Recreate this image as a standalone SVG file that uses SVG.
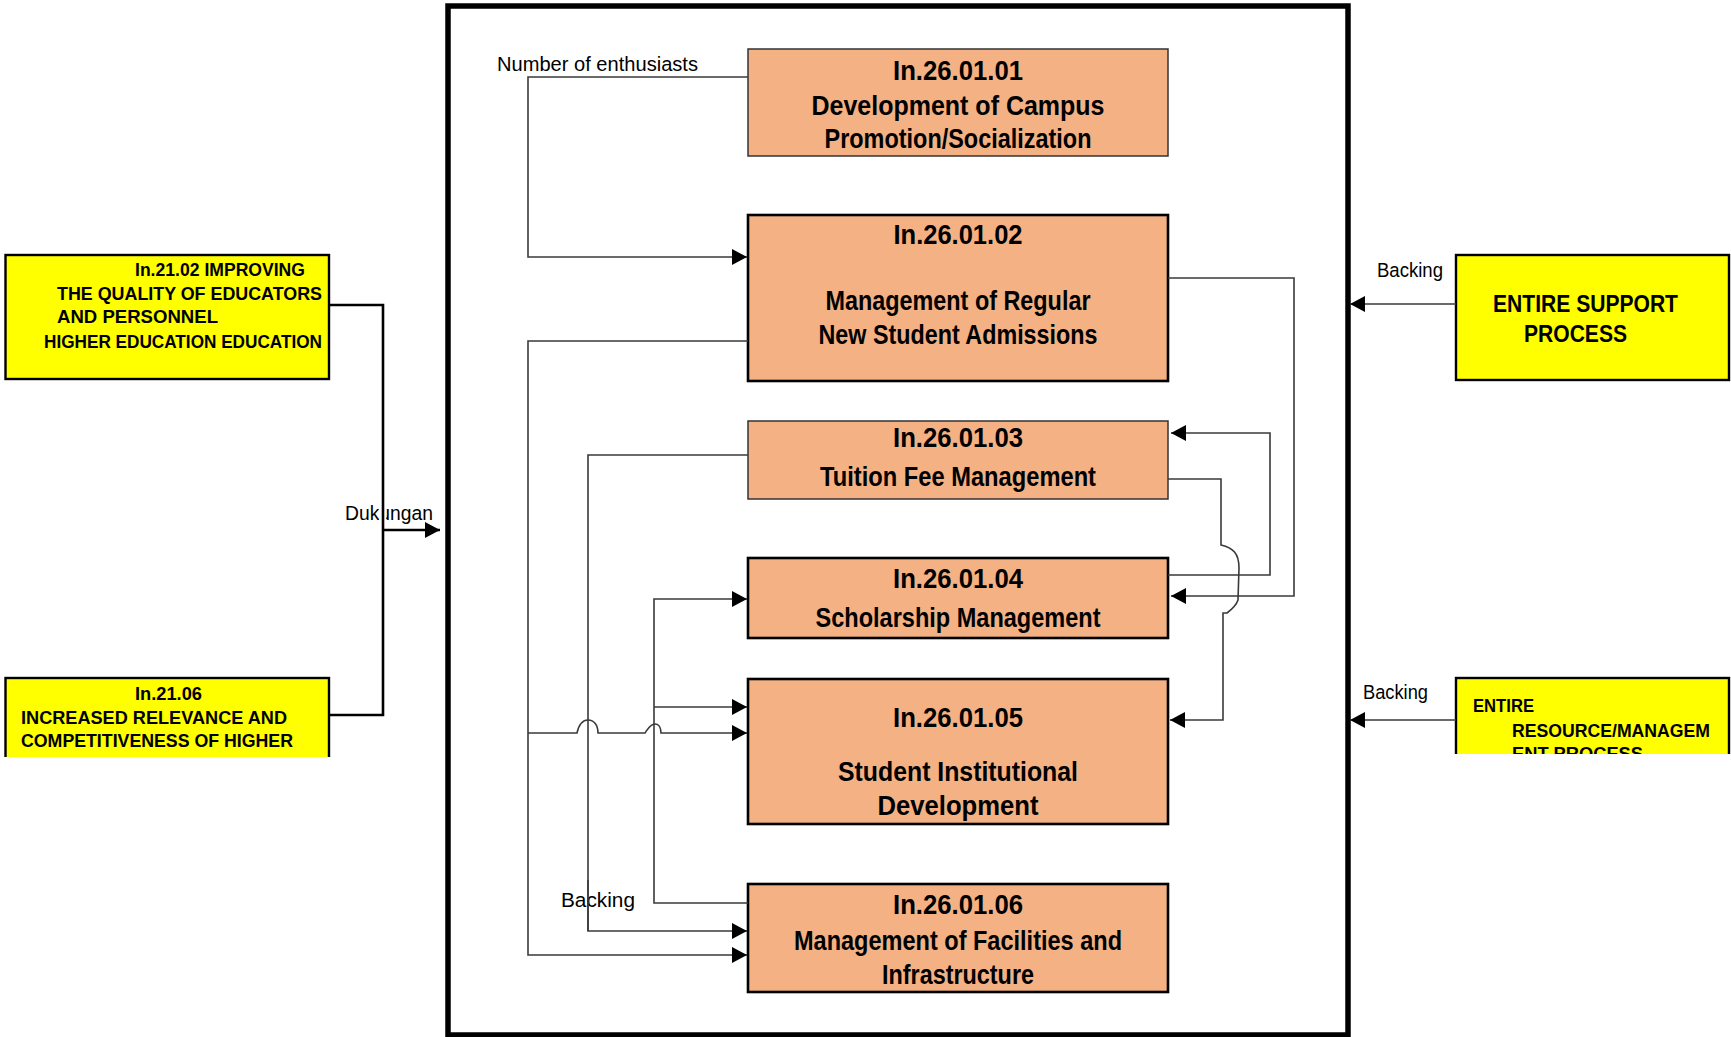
<svg xmlns="http://www.w3.org/2000/svg" width="1731" height="1037" viewBox="0 0 1731 1037">
  <defs>
    <style>
      .proc { fill: #F4B183; }
      .thin { stroke: #333333; stroke-width: 1.5; }
      .thick { stroke: #000000; stroke-width: 2.6; }
      .ext { fill: #FFFF00; stroke: #000000; stroke-width: 2.4; }
      .pt { font-family: "Liberation Sans", Arial, sans-serif; font-weight: bold; font-size: 28px; fill: #000; text-anchor: middle; }
      .et { font-family: "Liberation Sans", Arial, sans-serif; font-weight: bold; fill: #000; }
      .lbl { font-family: "Liberation Sans", Arial, sans-serif; font-size: 20.5px; fill: #000; }
      .wire { fill: none; stroke: #3a3a3a; stroke-width: 1.6; }
      .bold-wire { fill: none; stroke: #000; stroke-width: 2.6; }
    </style>
    <marker id="arrow" markerUnits="userSpaceOnUse" markerWidth="16" markerHeight="16" refX="15" refY="8" orient="auto">
      <path d="M0,0 L15,8 L0,16 Z" fill="#000"/>
    </marker>
    <clipPath id="clipLeft"><rect x="0" y="660" width="340" height="97"/></clipPath>
    <clipPath id="clipRight"><rect x="1440" y="660" width="291" height="94"/></clipPath>
  </defs>

  <rect width="1731" height="1037" fill="#ffffff"/>

  <!-- outer frame of the process group -->
  <rect id="frame" x="448" y="6" width="900" height="1029" fill="none" stroke="#000" stroke-width="5.5"/>

  <!-- external inputs (left) -->
  <g id="in2102">
    <rect class="ext" x="5.5" y="255" width="323.5" height="124"/>
    <text class="et" font-size="19" x="135" y="276" textLength="170" lengthAdjust="spacingAndGlyphs">In.21.02 IMPROVING</text>
    <text class="et" font-size="19" x="57" y="300" textLength="265" lengthAdjust="spacingAndGlyphs">THE QUALITY OF EDUCATORS</text>
    <text class="et" font-size="19" x="57" y="323" textLength="161" lengthAdjust="spacingAndGlyphs">AND PERSONNEL</text>
    <text class="et" font-size="19" x="44" y="348" textLength="278" lengthAdjust="spacingAndGlyphs">HIGHER EDUCATION EDUCATION</text>
  </g>

  <g id="in2106" clip-path="url(#clipLeft)">
    <rect class="ext" x="5.5" y="678" width="323.5" height="120"/>
    <text class="et" font-size="19" x="135" y="700" textLength="67" lengthAdjust="spacingAndGlyphs">In.21.06</text>
    <text class="et" font-size="19" x="21" y="724" textLength="266" lengthAdjust="spacingAndGlyphs">INCREASED RELEVANCE AND</text>
    <text class="et" font-size="19" x="21" y="747" textLength="272" lengthAdjust="spacingAndGlyphs">COMPETITIVENESS OF HIGHER</text>
    <text class="et" font-size="19" x="21" y="770" textLength="100" lengthAdjust="spacingAndGlyphs">EDUCATION</text>
  </g>

  <!-- external supports (right) -->
  <g id="support">
    <rect class="ext" x="1456" y="255" width="273" height="125"/>
    <text class="et" font-size="24.5" x="1493" y="312" textLength="185" lengthAdjust="spacingAndGlyphs">ENTIRE SUPPORT</text>
    <text class="et" font-size="24.5" x="1524" y="342" textLength="103" lengthAdjust="spacingAndGlyphs">PROCESS</text>
  </g>

  <g id="resource" clip-path="url(#clipRight)">
    <rect class="ext" x="1456" y="678" width="273" height="120"/>
    <text class="et" font-size="17.5" x="1473" y="712" textLength="61" lengthAdjust="spacingAndGlyphs">ENTIRE</text>
    <text class="et" font-size="17.5" x="1512" y="737" textLength="198" lengthAdjust="spacingAndGlyphs">RESOURCE/MANAGEM</text>
    <text class="et" font-size="17.5" x="1512" y="760" textLength="131" lengthAdjust="spacingAndGlyphs">ENT PROCESS</text>
  </g>

  <!-- sub-processes -->
  <g id="p260101">
    <rect class="proc thin" x="748" y="49" width="420" height="107"/>
    <text class="pt" x="958" y="80" textLength="130" lengthAdjust="spacingAndGlyphs">In.26.01.01</text>
    <text class="pt" x="958" y="115" textLength="293" lengthAdjust="spacingAndGlyphs">Development of Campus</text>
    <text class="pt" x="958" y="148" textLength="267" lengthAdjust="spacingAndGlyphs">Promotion/Socialization</text>
  </g>

  <g id="p260102">
    <rect class="proc thick" x="748" y="215" width="420" height="166"/>
    <text class="pt" x="958" y="244" textLength="129" lengthAdjust="spacingAndGlyphs">In.26.01.02</text>
    <text class="pt" x="958" y="310" textLength="265" lengthAdjust="spacingAndGlyphs">Management of Regular</text>
    <text class="pt" x="958" y="344" textLength="279" lengthAdjust="spacingAndGlyphs">New Student Admissions</text>
  </g>

  <g id="p260103">
    <rect class="proc thin" x="748" y="421" width="420" height="78"/>
    <text class="pt" x="958" y="447" textLength="130" lengthAdjust="spacingAndGlyphs">In.26.01.03</text>
    <text class="pt" x="958" y="486" textLength="276" lengthAdjust="spacingAndGlyphs">Tuition Fee Management</text>
  </g>

  <g id="p260104">
    <rect class="proc thick" x="748" y="558" width="420" height="80"/>
    <text class="pt" x="958" y="588" textLength="130" lengthAdjust="spacingAndGlyphs">In.26.01.04</text>
    <text class="pt" x="958" y="627" textLength="285" lengthAdjust="spacingAndGlyphs">Scholarship Management</text>
  </g>

  <g id="p260105">
    <rect class="proc thick" x="748" y="679" width="420" height="145"/>
    <text class="pt" x="958" y="727" textLength="130" lengthAdjust="spacingAndGlyphs">In.26.01.05</text>
    <text class="pt" x="958" y="781" textLength="240" lengthAdjust="spacingAndGlyphs">Student Institutional</text>
    <text class="pt" x="958" y="815" textLength="161" lengthAdjust="spacingAndGlyphs">Development</text>
  </g>

  <g id="p260106">
    <rect class="proc thick" x="748" y="884" width="420" height="108"/>
    <text class="pt" x="958" y="914" textLength="130" lengthAdjust="spacingAndGlyphs">In.26.01.06</text>
    <text class="pt" x="958" y="950" textLength="328" lengthAdjust="spacingAndGlyphs">Management of Facilities and</text>
    <text class="pt" x="958" y="984" textLength="152" lengthAdjust="spacingAndGlyphs">Infrastructure</text>
  </g>

  <!-- connectors -->
  <g id="connectors">
    <!-- left inputs merge into one support arrow -->
    <text class="lbl" x="345" y="520" textLength="88" lengthAdjust="spacingAndGlyphs">Dukungan</text>
    <rect x="379" y="502" width="7" height="22" fill="#fff"/>
    <path class="bold-wire" d="M329,305 H383 V715 H329"/>
    <path class="bold-wire" d="M383,530 H440" marker-end="url(#arrow)"/>

    <!-- right supports -->
    <text class="lbl" x="1377" y="277" textLength="66" lengthAdjust="spacingAndGlyphs">Backing</text>
    <path class="wire" d="M1456,304 H1350" marker-end="url(#arrow)"/>
    <text class="lbl" x="1363" y="699" textLength="65" lengthAdjust="spacingAndGlyphs">Backing</text>
    <path class="wire" d="M1456,720 H1350" marker-end="url(#arrow)"/>

    <!-- 01 -> 02 -->
    <text class="lbl" font-size="21.5" x="497" y="71" textLength="201" lengthAdjust="spacingAndGlyphs">Number of enthusiasts</text>
    <path class="wire" d="M748,77 H528 V257 H747" marker-end="url(#arrow)"/>

    <!-- 02 -> 06 and 02 -> 05 -->
    <path class="wire" d="M748,341 H528 V955 H747" marker-end="url(#arrow)"/>
    <path class="wire" d="M528,733 H577 C579,724 583,720 588,720 C594,720 598,725 598,733 H645 C648,729 650,724 655,724 C659,724 661,728 661,733 H747" marker-end="url(#arrow)"/>

    <!-- 03 -> 06 -->
    <path class="wire" d="M748,455 H588 V931 H747" marker-end="url(#arrow)"/>
    <text class="lbl" font-size="22" x="561" y="907" textLength="74" lengthAdjust="spacingAndGlyphs">Backing</text>
    <path class="wire" d="M588,880 V931"/>

    <!-- 06 -> 04 and 06 -> 05 -->
    <path class="wire" d="M748,903 H654 V599 H747" marker-end="url(#arrow)"/>
    <path class="wire" d="M654,707 H747" marker-end="url(#arrow)"/>

    <!-- right-hand feedback loops -->
    <path class="wire" d="M1168,278 H1294 V596 H1171" marker-end="url(#arrow)"/>
    <path class="wire" d="M1168,575 H1270 V433 H1171" marker-end="url(#arrow)"/>
    <path class="wire" d="M1168,479 H1221 V545 C1233,548 1239,553 1239,568 L1238,600 C1236,606 1231,610 1227,613 L1223,613 V720 H1170" marker-end="url(#arrow)"/>
  </g>
</svg>
